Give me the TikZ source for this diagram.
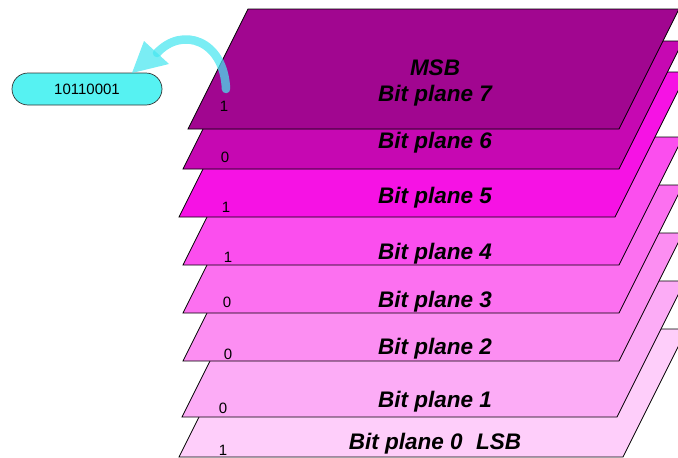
\documentclass[tikz,border=0pt]{standalone}
\usepackage{fontspec}
\setmainfont{Liberation Sans}
\usetikzlibrary{shapes.misc}
\begin{document}
\begin{tikzpicture}[x=1pt,y=-1pt,
  plane/.style={draw=black, line width=0.7pt, line join=miter},
  planelabel/.style={anchor=base, inner sep=0pt, font=\fontsize{22.5}{26}\selectfont\bfseries\itshape},
  bitlabel/.style={anchor=base, inner sep=0pt, font=\fontsize{15}{17}\selectfont},
  valbox/.style={draw=black!80, line width=0.7pt, fill=boxcyan, rounded rectangle, minimum width=150pt, minimum height=32pt, inner sep=0pt, font=\fontsize{15}{17}\selectfont}
]
\definecolor{boxcyan}{RGB}{86,242,242}
\definecolor{arrcyan}{RGB}{70,230,240}
\definecolor{p7}{RGB}{161,6,144}
\definecolor{p6}{RGB}{198,8,178}
\definecolor{p5}{RGB}{246,18,228}
\definecolor{p4}{RGB}{251,78,238}
\definecolor{p3}{RGB}{252,112,240}
\definecolor{p2}{RGB}{252,142,242}
\definecolor{p1}{RGB}{252,172,246}
\definecolor{p0}{RGB}{254,206,250}
\useasboundingbox (0,0) rectangle (678,458);
\begin{scope}
\clip (0,0) rectangle (678,458.5);
% planes: bottom-left x, bottom-right x, bottom y, top y
\foreach \bl/\br/\yb/\yt/\c in {179/623/457/329/p0, 182/617/417/281/p1, 183/619/361/233/p2, 183/619/313/185/p3, 183/619/265/137/p4, 179/615/217/72/p5, 183/619/169/41/p6, 188/619/129/9/p7}{
  \pgfmathsetmacro{\h}{0.5*(\yb-\yt)}
  \draw[plane, fill=\c] (\bl,\yb) -- (\br,\yb) -- (\br+\h,\yt) -- (\bl+\h,\yt) -- cycle;
}
\end{scope}
% plane labels
\node[planelabel] (msb) at (435,75) {MSB};
\node[planelabel] (l7) at (435,101) {Bit plane 7};
\node[planelabel] (l6) at (435,148) {Bit plane 6};
\node[planelabel] (l5) at (435,203) {Bit plane 5};
\node[planelabel] (l4) at (435,259) {Bit plane 4};
\node[planelabel] (l3) at (435,307) {Bit plane 3};
\node[planelabel] (l2) at (435,354) {Bit plane 2};
\node[planelabel] (l1) at (435,407) {Bit plane 1};
\node[planelabel] (l0) at (435,449) {Bit plane 0\hspace{0.6em}LSB};
% bit values
\node[bitlabel] (b7) at (224,111) {1};
\node[bitlabel] (b6) at (225,162) {0};
\node[bitlabel] (b5) at (226,212) {1};
\node[bitlabel] (b4) at (228,262) {1};
\node[bitlabel] (b3) at (227,307) {0};
\node[bitlabel] (b2) at (228,359) {0};
\node[bitlabel] (b1) at (223,413) {0};
\node[bitlabel] (b0) at (223,455) {1};
% value box
\node[valbox] (val) at (87,89) {10110001};
% curved arrow
\coordinate (astart) at (226,89);
\coordinate (abase) at (157,53);
\begin{scope}[opacity=0.72]
\draw[arrcyan, line width=8.5pt, line cap=round] (astart) .. controls (224,40) and (182,26) .. (abase);
\fill[arrcyan] (132,73) -- (144,41) -- (169,64) -- cycle;
\end{scope}
\end{tikzpicture}
\end{document}
